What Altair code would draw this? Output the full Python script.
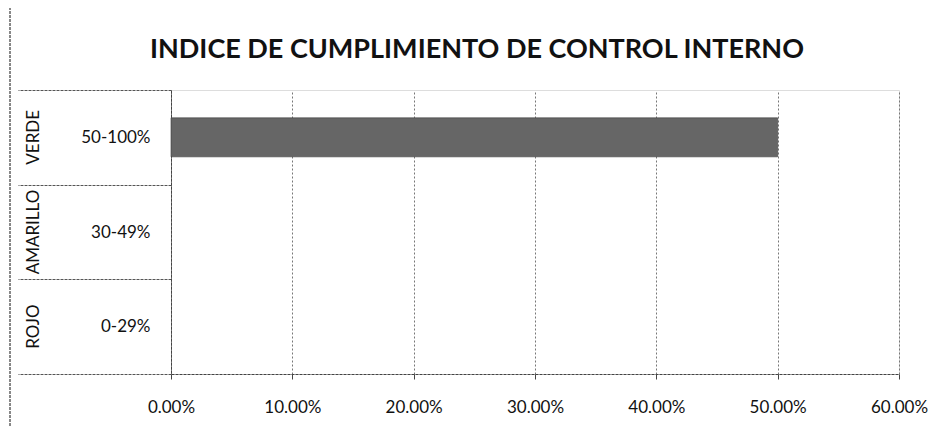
import altair as alt
import pandas as pd

colores = ["VERDE", "AMARILLO", "ROJO"]
rangos = ["50-100%", "30-49%", "0-29%"]
valores = [0.50, 0.0, 0.0]
ticks_x = [0, 0.1, 0.2, 0.3, 0.4, 0.5, 0.6]

df = pd.DataFrame({"color": colores, "rango": rangos, "valor": valores})

FONT = "Lato"

y_enc = alt.Y(
    "rango:N",
    sort=rangos,
    title=None,
    scale=alt.Scale(paddingInner=0, paddingOuter=0),
    axis=alt.Axis(
        tickBand="extent",
        tickSize=153,
        tickColor="#555555",
        tickDash=[3, 1],
        domain=True,
        domainColor="#444444",
        domainDash=[3, 1],
        labelPadding=-132,
        labelFont=FONT,
        labelFontSize=17,
        labelColor="#111111",
        labelAlign="right",
        labelBaseline="middle",
        grid=False,
    ),
)

x_enc = alt.X(
    "valor:Q",
    title=None,
    scale=alt.Scale(domain=[0, 0.6], nice=False),
    axis=alt.Axis(
        values=ticks_x,
        format=".2%",
        labelFont=FONT,
        labelFontSize=17,
        labelColor="#111111",
        labelPadding=20,
        labelFlush=False,
        labelOverlap=False,
        tickSize=5,
        tickColor="#444444",
        domainColor="#444444",
        domainDash=[3, 1],
        grid=True,
        gridColor="#777777",
        gridDash=[2, 2],
        gridWidth=1,
    ),
)

bars = alt.Chart(df).mark_bar(size=39, color="#666666", stroke="#3a3a3a", strokeWidth=0.6).encode(
    x=x_enc, y=y_enc
).transform_filter(alt.datum.valor > 0)

outer = alt.Chart(df).mark_text(angle=270, font=FONT, fontSize=17, color="#111111", align="center", baseline="middle").encode(
    y=alt.Y("rango:N", sort=rangos),
    x=alt.value(-137),
    text="color:N",
)

border_top = alt.Chart(df).mark_rule(color="#777777", strokeDash=[3, 1], strokeWidth=1).encode(
    x=alt.value(-161), x2=alt.value(760), y=alt.value(-87)
)
border_left = alt.Chart(df).mark_rule(color="#777777", strokeDash=[3, 1], strokeWidth=1).encode(
    x=alt.value(-161), y=alt.value(-87), y2=alt.value(337)
)

chart = alt.layer(bars, outer, border_top, border_left).properties(
    width=728,
    height=284,
    autosize=alt.AutoSizeParams(type="none"),
    padding={"left": 163, "top": 82, "right": 31, "bottom": 53},
    title=alt.TitleParams(
        "INDICE DE CUMPLIMIENTO DE CONTROL INTERNO",
        font=FONT,
        fontSize=27,
        fontWeight="bold",
        color="#111111",
        anchor="middle",
        frame="group",
        dx=-58,
        offset=-82,
        baseline="alphabetic",
    ),
).configure_view(stroke=None).configure(background="white")

chart.save("out.html", embed_options={"renderer": "svg", "actions": False})
